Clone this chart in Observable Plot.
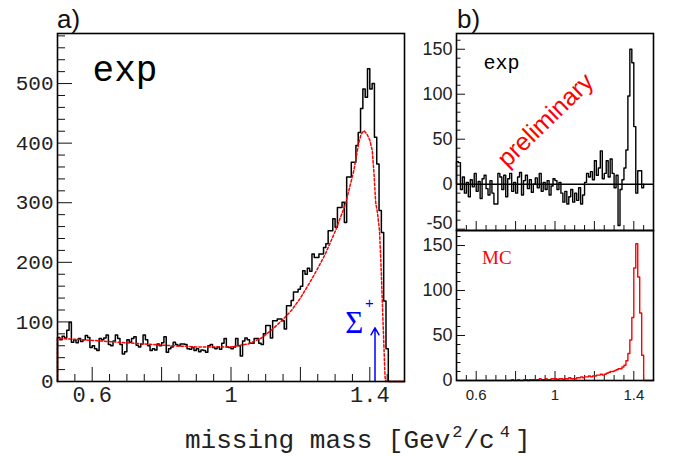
<!DOCTYPE html>
<html><head><meta charset="utf-8">
<script src="https://cdn.jsdelivr.net/npm/d3@7"></script>
<script src="https://cdn.jsdelivr.net/npm/@observablehq/plot@0.6"></script>
<style>
body{margin:0;background:#fff;}
#c{position:relative;width:675px;height:457px;overflow:hidden;background:#fff;}
#c svg{position:absolute;}
</style></head><body><div id="c"></div>
<script>
// ---------- panel a) : experimental missing-mass histogram (bins of 1/150 from 0.5) ----------
const aStart = 0.5, aWidth = 1/150;
const aExp = [
 74, 70, 76, 73, 86, 99, 66, 70, 65, 72,
 67, 70, 77, 74, 57, 60, 55, 52, 72, 70,
 73, 78, 62, 60, 68, 78, 72, 62, 46, 50,
 70, 66, 72, 75, 61, 58, 63, 78, 70, 60,
 52, 55, 53, 63, 60, 65, 75, 49, 55, 58,
 66, 62, 60, 63, 63, 62, 55, 54, 57, 52,
 55, 50, 53, 52, 49, 60, 62, 57, 55, 58,
 54, 64, 72, 58, 57, 55, 58, 72, 60, 43,
 68, 73, 70, 64, 64, 72, 72, 64, 62, 80,
 94, 94, 73, 102, 102, 105, 105, 102, 88, 127,
 127, 136, 150, 150, 155, 160, 186, 180, 190, 185,
 214, 208, 208, 214, 214, 225, 231, 253, 253, 273,
 259, 292, 292, 301, 267, 343, 343, 368, 368, 396,
 418, 458, 491, 477, 525, 491, 500, 410, 365, 287,
 250, 135, 55
];
// red dashed simulation curve in a)
const aFitX = [0.5, 0.5, 0.55, 0.6, 0.7, 0.8, 0.9, 1.0, 1.05, 1.088, 1.12, 1.146, 1.174, 1.2, 1.233, 1.25, 1.272, 1.301, 1.33, 1.354, 1.368, 1.375, 1.383, 1.392, 1.4, 1.407, 1.412, 1.417, 1.422, 1.428, 1.432, 1.436, 1.44, 1.444, 1.446, 1.5];
const aFitY = [0, 72, 71, 69, 65, 61, 58, 58, 63, 73, 88, 102, 119, 140, 172, 190, 214, 253, 298, 354, 400, 415, 421, 415, 405, 388, 350, 300, 284, 253, 200, 136, 70, 7, 0, 0];

// ---------- panel b) upper : exp minus background (bins of 0.01 from 0.5) ----------
const bStart = 0.5, bWidth = 0.01;
const bExp = [
 25, 24, -6, 8, -10, 2, -14, 5, -3, 12,
 -8, 3, -16, 6, 10, -5, -12, 4, -10, -22,
 -22, 12, 8, -6, 10, -14, 6, 12, -8, 2,
 -10, 8, 13, -12, 4, 10, -5, 5, -9, 0,
 7, -4, 12, -8, 2, -6, 4, -12, -2, 6,
 4, -6, 2, -10, -20, -8, -22, -14, -6, -20,
 -10, -18, -4, -22, -12, 2, 12, 8, 14, 5,
 26, 10, 18, 37, 6, 12, 26, 8, 28, 12,
 -4, 10, -46, -6, 5, 18, 38, 98, 150, 135,
 64, -10, 15, 15, -4
];
// ---------- panel b) lower : MC ----------
const bMC = [
 0, 0, 0, 0, 0, 0, 0, 0, 0, 0,
 0, 0, 0, 0, 0, 0, 0, 0, 0, 0,
 0, 0, 0, 0, 0, 0, 0, 0, 1, 0,
 0, 1, 0, 0, 1, 1, 0, 1, 1, 1,
 1, 1, 2, 1, 1, 2, 1, 1, 2, 2,
 2, 1, 2, 2, 1, 2, 2, 3, 2, 2,
 2, 3, 3, 4, 3, 4, 4, 5, 4, 5,
 5, 6, 6, 7, 6, 7, 8, 9, 10, 10,
 11, 12, 13, 13, 15, 17, 22, 30, 45, 70,
 125, 152, 115, 75, 28, 0, 0, 0, 0, 0
];

// ---------- ticks ----------
const aXMajor = [0.6, 0.8, 1.0, 1.2, 1.4];
const aXMinor = [0.55, 0.65, 0.7, 0.75, 0.85, 0.9, 0.95, 1.05, 1.1, 1.15, 1.25, 1.3, 1.35, 1.45];
const xLabels = [0.6, 1, 1.4];
const aYMajor = [0, 100, 200, 300, 400, 500];
const aYMinor = [20, 40, 60, 80, 120, 140, 160, 180, 220, 240, 260, 280, 320, 340, 360, 380, 420, 440, 460, 480, 520, 540, 560, 580];
const buYMajor = [-50, 0, 50, 100, 150];
const buYLabels = [0, 50, 100, 150];
const buYLowLabel = [-50];
const buYMinor = [-40, -30, -20, -10, 10, 20, 30, 40, 60, 70, 80, 90, 110, 120, 130, 140, 160];
const blYMajor = [0, 50, 100, 150];
const blYMinor = [10, 20, 30, 40, 60, 70, 80, 90, 110, 120, 130, 140, 160];

// annotations
const aNotes = [{text: "exp", x: 0.601, y: 505}];
const sigmaNote = [{text: "Σ", x: 1.355, y: 82}];
const sigmaPlus = [{text: "+", x: 1.399, y: 132}];
const sigmaArrow = [{x: 1.415, y1: 0, y2: 90}];
const buNotes = [{text: "exp", x: 0.637, y: 128}];
const prelim = [{text: "preliminary", x: 0.952, y: 71}];
const blNotes = [{text: "MC", x: 0.630, y: 130}];

function histPoints(values, start, width, endX) {
  const pts = [{x: start, y: 0}];
  values.forEach((v, i) => pts.push({x: start + i * width, y: v}));
  const e = start + values.length * width;
  pts.push({x: e, y: values[values.length - 1]});
  pts.push({x: e, y: 0});
  if (endX !== undefined) pts.push({x: endX, y: 0});
  return pts;
}

const ink = "#111";
const monoF = "Liberation Mono, Courier New, monospace";
const sansF = "Liberation Sans, Arial, sans-serif";
const serifF = "Liberation Serif, Times New Roman, serif";
const tr = {background: "transparent", overflow: "visible"};

const plotA = Plot.plot({
  width: 420, height: 410, marginLeft: 57, marginRight: 16, marginTop: 33, marginBottom: 29,
  style: tr,
  x: {domain: [0.5, 1.5]}, y: {domain: [0, 584]},
  marks: [
    Plot.axisX(aXMinor, {anchor: "bottom", tickSize: -7, fill: "none", stroke: ink, label: null}),
    Plot.axisX(aXMajor, {anchor: "bottom", tickSize: -14, fill: "none", stroke: ink, label: null}),
    Plot.axisX(xLabels, {anchor: "bottom", tickSize: 0, tickPadding: 5, tickFormat: d => String(d), fontFamily: monoF, fontSize: 22, fill: "#222", label: null}),
    Plot.axisY(aYMinor, {anchor: "left", tickSize: -8, fill: "none", stroke: ink, label: null}),
    Plot.axisY(aYMajor, {anchor: "left", tickSize: -15, fill: "none", stroke: ink, label: null}),
    Plot.axisY(aYMajor, {anchor: "left", tickSize: 0, tickPadding: 4, tickFormat: d => String(d), fontFamily: monoF, fontSize: 21, fill: "#222", label: null}),
    Plot.line(histPoints(aExp, aStart, aWidth, 1.5), {x: "x", y: "y", curve: "step-after", stroke: "black", strokeWidth: 1.5}),
    Plot.line(aFitX.map((x, i) => ({x, y: aFitY[i]})), {x: "x", y: "y", stroke: "#ff0000", strokeWidth: 1.5, strokeDasharray: "2.5,2"}),
    Plot.arrow(sigmaArrow, {x1: "x", x2: "x", y1: "y1", y2: "y2", stroke: "#0000ff", strokeWidth: 1.5, headLength: 8}),
    Plot.text(sigmaNote, {x: "x", y: "y", text: "text", fill: "#0000ff", fontSize: 31, fontFamily: serifF, textAnchor: "middle", lineAnchor: "bottom"}),
    Plot.text(sigmaPlus, {x: "x", y: "y", text: "text", fill: "#0000ff", fontSize: 15, fontFamily: sansF, textAnchor: "middle", lineAnchor: "middle"}),
    Plot.text(aNotes, {x: "x", y: "y", text: "text", fill: "black", fontSize: 36, fontFamily: monoF, textAnchor: "start", lineAnchor: "bottom"}),
    Plot.frame({stroke: "black", strokeWidth: 1.6})
  ]
});

const plotBU = Plot.plot({
  width: 265, height: 240, marginLeft: 46, marginRight: 22, marginTop: 33, marginBottom: 10,
  style: tr,
  x: {domain: [0.5, 1.5]}, y: {domain: [-51.5, 167.5]},
  marks: [
    Plot.axisX(aXMinor, {anchor: "bottom", tickSize: -5, fill: "none", stroke: ink, label: null}),
    Plot.axisX(aXMajor, {anchor: "bottom", tickSize: -9, fill: "none", stroke: ink, label: null}),
    Plot.axisY(buYMinor, {anchor: "left", tickSize: -4.5, fill: "none", stroke: ink, label: null}),
    Plot.axisY(buYMajor, {anchor: "left", tickSize: -9, fill: "none", stroke: ink, label: null}),
    Plot.axisY(buYLabels, {anchor: "left", tickSize: 0, tickPadding: 4, tickFormat: d => String(d), fontFamily: sansF, fontSize: 18, fill: "#222", label: null}),
    Plot.axisY(buYLowLabel, {anchor: "left", tickSize: 0, tickPadding: 4, dy: -6, tickFormat: d => String(d), fontFamily: sansF, fontSize: 18, fill: "#222", label: null}),
    Plot.ruleY([0], {stroke: "black", strokeWidth: 1.5}),
    Plot.line(histPoints(bExp, bStart, bWidth), {x: "x", y: "y", curve: "step-after", stroke: "black", strokeWidth: 1.4}),
    Plot.text(buNotes, {x: "x", y: "y", text: "text", fill: "black", fontSize: 20, fontFamily: monoF, textAnchor: "start", lineAnchor: "bottom"}),
    Plot.text(prelim, {x: "x", y: "y", text: "text", fill: "#ff0000", fontSize: 25, fontFamily: sansF, textAnchor: "middle", lineAnchor: "middle", rotate: -44}),
    Plot.frame({stroke: "black", strokeWidth: 1.6})
  ]
});

const plotBL = Plot.plot({
  width: 265, height: 190, marginLeft: 46, marginRight: 22, marginTop: 10, marginBottom: 30,
  style: tr,
  x: {domain: [0.5, 1.5]}, y: {domain: [0, 166.7]},
  marks: [
    Plot.axisX(aXMinor, {anchor: "bottom", tickSize: -5, fill: "none", stroke: ink, label: null}),
    Plot.axisX(aXMajor, {anchor: "bottom", tickSize: -9, fill: "none", stroke: ink, label: null}),
    Plot.axisX(xLabels, {anchor: "bottom", tickSize: 0, tickPadding: 9, tickFormat: d => String(d), fontFamily: sansF, fontSize: 15, fill: "#222", label: null}),
    Plot.axisY(blYMinor, {anchor: "left", tickSize: -4.5, fill: "none", stroke: ink, label: null}),
    Plot.axisY(blYMajor, {anchor: "left", tickSize: -9, fill: "none", stroke: ink, label: null}),
    Plot.axisY(blYMajor, {anchor: "left", tickSize: 0, tickPadding: 4, tickFormat: d => String(d), fontFamily: sansF, fontSize: 18, fill: "#222", label: null}),
    Plot.line(histPoints(bMC, bStart, bWidth), {x: "x", y: "y", curve: "step-after", stroke: "#ff0000", strokeWidth: 1.4}),
    Plot.text(blNotes, {x: "x", y: "y", text: "text", fill: "#ff0000", fontSize: 19, fontFamily: serifF, textAnchor: "start", lineAnchor: "bottom"}),
    Plot.frame({stroke: "black", strokeWidth: 1.6})
  ]
});

const c = document.getElementById("c");
function place(svg, left, top) { svg.style.left = left + "px"; svg.style.top = top + "px"; c.appendChild(svg); }
place(plotA, 0, 0);
place(plotBU, 410, 0);
place(plotBL, 410, 220);

// panel letters and common axis title
const ov = d3.select(c).append("svg").attr("width", 675).attr("height", 457)
  .style("left", "0px").style("top", "0px").style("pointer-events", "none");
ov.append("text").attr("x", 57).attr("y", 28).attr("font-family", sansF).attr("font-size", 26).attr("fill", "#111").text("a)");
ov.append("text").attr("x", 457).attr("y", 28).attr("font-family", sansF).attr("font-size", 26).attr("fill", "#111").text("b)");
const t = ov.append("text").attr("x", 185).attr("y", 448).attr("font-family", monoF).attr("font-size", 26).attr("fill", "#222");
t.append("tspan").text("missing mass [Gev");
t.append("tspan").attr("font-size", 17).attr("dx", 2).attr("dy", -11).text("2");
t.append("tspan").attr("dx", 1).attr("dy", 11).text("/c");
t.append("tspan").attr("font-size", 17).attr("dx", 5).attr("dy", -11).text("4");
t.append("tspan").attr("dx", 5).attr("dy", 11).text("]");
</script>
</body></html>
